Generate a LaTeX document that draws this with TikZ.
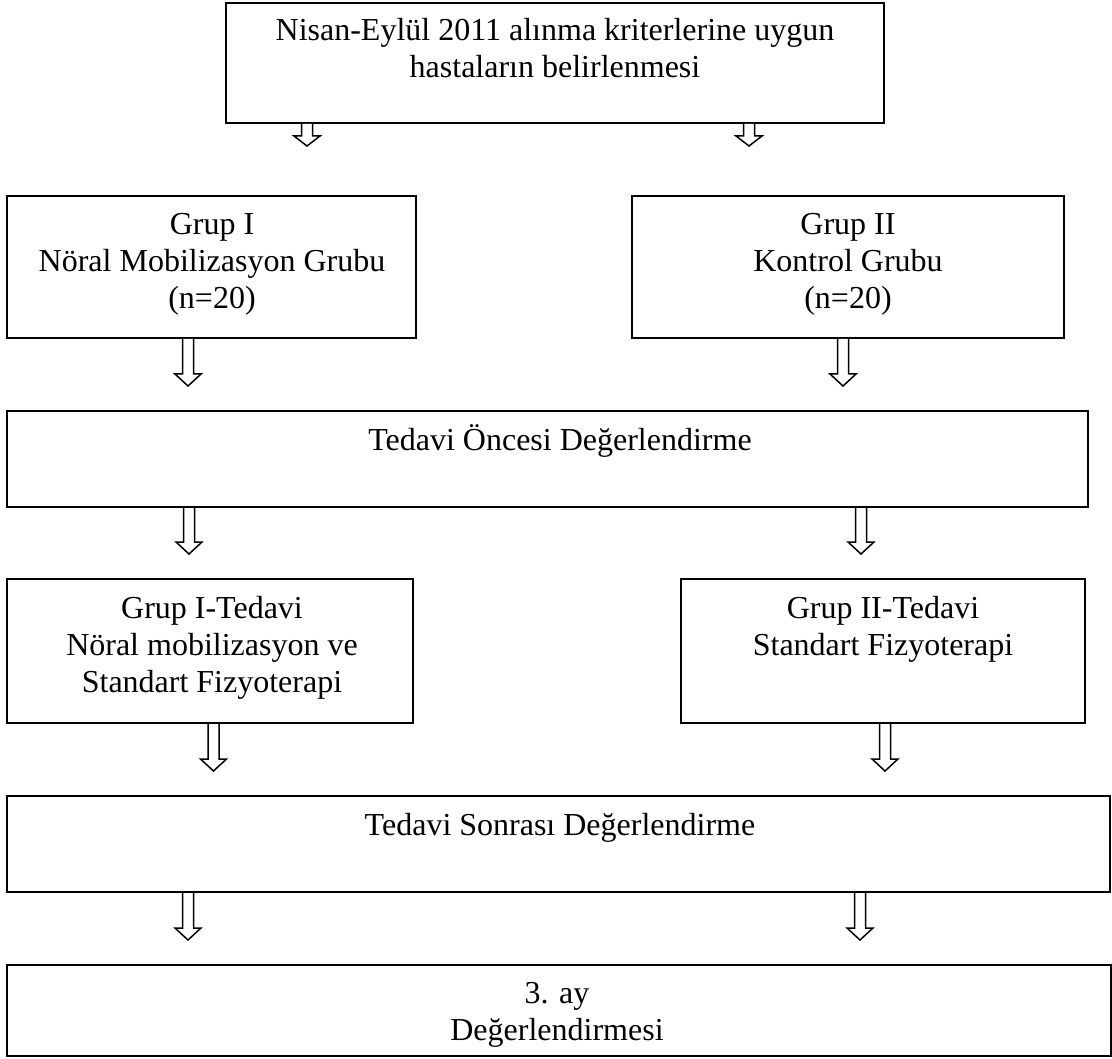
\documentclass[tikz,border=0pt]{standalone}
\usepackage{fontspec}
\setmainfont{Liberation Serif}
\usetikzlibrary{calc}
\tikzset{
  box/.style={draw, line width=2pt, rectangle, inner sep=0pt},
  txt/.style={align=center, inner sep=0pt, anchor=base, font=\fontsize{32}{37}\selectfont},
  barrowstyle/.style={draw, line width=1.5pt, fill=white, line join=miter}
}
% #1 source node, #2 target node, #3 x (px), #4 gap between tip and target top, #5 head length
\newcommand\barrow[5]{%
  \draw[barrowstyle] let \p1=(#1.south), \p2=(#2.north) in
    ({#3pt-5.5pt},{\y1}) -- ({#3pt-5.5pt},{\y2+#4pt+#5pt}) -- ({#3pt-13pt},{\y2+#4pt+#5pt})
    -- ({#3pt},{\y2+#4pt}) -- ({#3pt+13pt},{\y2+#4pt+#5pt}) -- ({#3pt+5.5pt},{\y2+#4pt+#5pt})
    -- ({#3pt+5.5pt},{\y1});}
\begin{document}
\begin{tikzpicture}[x=1pt,y=-1pt]
\useasboundingbox (0,0) rectangle (1112,1059);
% boxes
\node[box, minimum width=658pt, minimum height=120pt] (top) at (555,63) {};
\node[box, minimum width=409pt, minimum height=142pt] (g1) at (211.5,267) {};
\node[box, minimum width=432pt, minimum height=142pt] (g2) at (848,267) {};
\node[box, minimum width=1081pt, minimum height=96pt] (once) at (547.5,459) {};
\node[box, minimum width=406pt, minimum height=144pt] (t1) at (210,651) {};
\node[box, minimum width=404pt, minimum height=144pt] (t2) at (883,651) {};
\node[box, minimum width=1103pt, minimum height=96pt] (sonra) at (558.5,844) {};
\node[box, minimum width=1104pt, minimum height=91pt] (ay) at (559,1010.5) {};
% texts (anchor = baseline of the last line)
\node[txt] (ttop) at (555,78) {Nisan-Eylül 2011 alınma kriterlerine uygun\\hastaların belirlenmesi};
\node[txt] (tg1) at (212,309) {Grup I\\Nöral Mobilizasyon Grubu\\(n=20)};
\node[txt] (tg2) at (848,309) {Grup II\\Kontrol Grubu\\(n=20)};
\node[txt] (tonce) at (560,450) {Tedavi Öncesi Değerlendirme};
\node[txt] (tt1) at (212,692) {Grup I-Tedavi\\Nöral mobilizasyon ve\\Standart Fizyoterapi};
\node[txt] (tt2) at (883,655) {Grup II-Tedavi\\Standart Fizyoterapi};
\node[txt] (tsonra) at (560,835) {Tedavi Sonrası Değerlendirme};
\node[txt] (tay) at (557,1040) {3. ay\\Değerlendirmesi};
% arrows
\barrow{top}{g1}{307}{49}{10}
\barrow{top}{g2}{749}{49}{10}
\barrow{g1}{once}{188}{24}{12}
\barrow{g2}{once}{843}{24}{12}
\barrow{once}{t1}{189}{24}{12}
\barrow{once}{t2}{861}{24}{12}
\barrow{t1}{sonra}{213.5}{24}{12}
\barrow{t2}{sonra}{885}{24}{12}
\barrow{sonra}{ay}{188}{24}{12}
\barrow{sonra}{ay}{860}{24}{12}
\end{tikzpicture}
\end{document}
